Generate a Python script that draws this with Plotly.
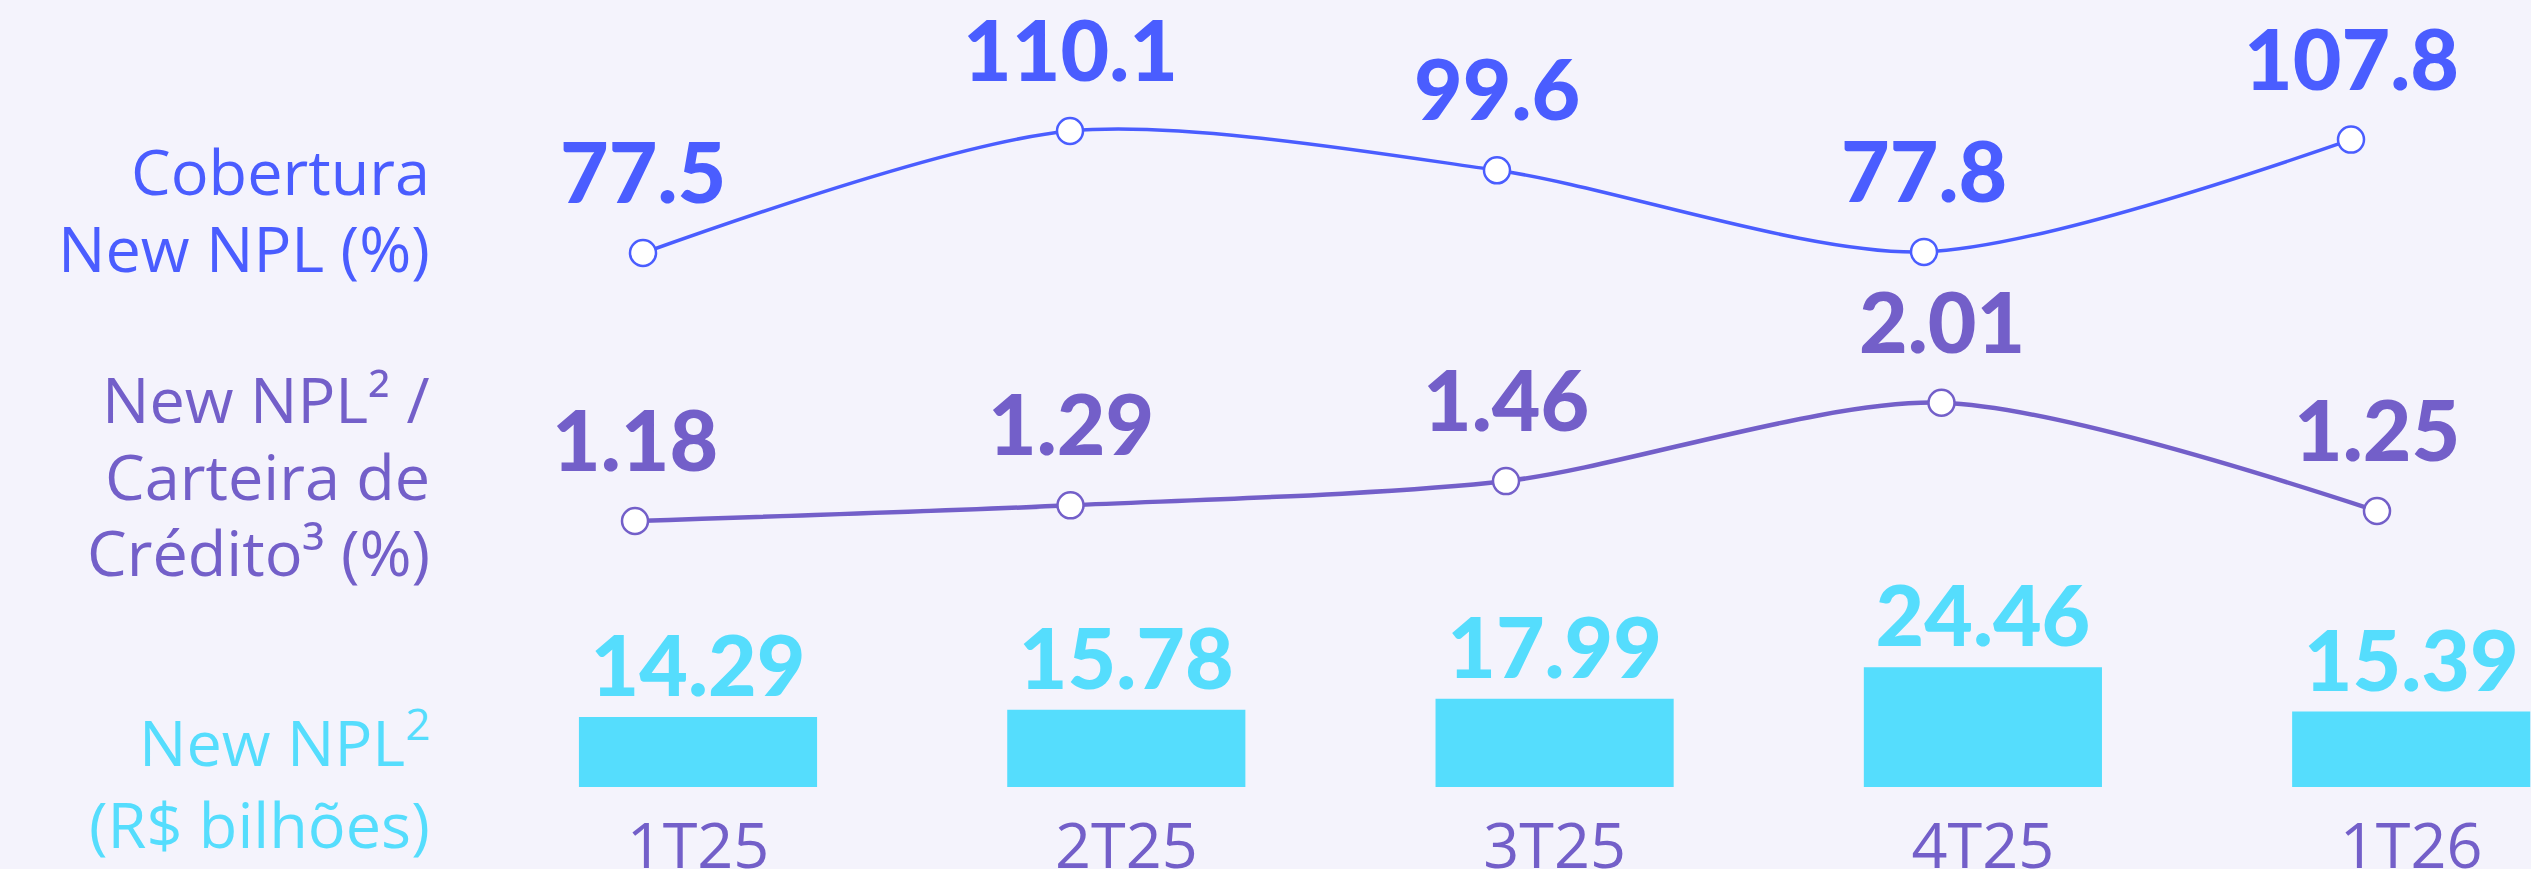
import plotly.graph_objects as go

# ---------------- data ----------------
categories = ["1T25", "2T25", "3T25", "4T25", "1T26"]
new_npl_bi = [14.29, 15.78, 17.99, 24.46, 15.39]          # bars (R$ bilhões)
cobertura_pct = [77.5, 110.1, 99.6, 77.8, 107.8]          # top line (%)
npl_carteira_pct = [1.18, 1.29, 1.46, 2.01, 1.25]         # middle line (%)

bar_labels = ["14.29", "15.78", "17.99", "24.46", "15.39"]
cob_labels = ["77.5", "110.1", "99.6", "77.8", "107.8"]
npl_labels = ["1.18", "1.29", "1.46", "2.01", "1.25"]

# ---------------- style ----------------
W, H = 2531, 869
BG = "#F4F3FC"
CYAN = "#55DDFD"
BLUE = "#4A5DFF"
PURPLE = "#735FC9"
NUM_FONT = "Lato"
TXT_FONT = "Open Sans"

# pixel geometry (layout only)
base_px = 787                     # bar baseline (bottom of plotting domain)
dom_h = base_px


def cat_range(center0, step):
    return [-center0 / step, (W - center0) / step]


def val_range(v_ref, px_ref, px_per_unit):
    top = v_ref + px_ref / px_per_unit
    bottom = v_ref - (dom_h - px_ref) / px_per_unit
    return [bottom, top]


fig = go.Figure()

fig.add_trace(go.Bar(
    x=categories, y=new_npl_bi, xaxis="x", yaxis="y",
    marker=dict(color=CYAN, line=dict(width=0)),
    width=0.556,
    text=bar_labels, textposition="outside", constraintext="none",
    textfont=dict(family=NUM_FONT, size=84, color=CYAN, weight=900),
    cliponaxis=False, hoverinfo="skip",
))

fig.add_trace(go.Scatter(
    x=categories, y=cobertura_pct, xaxis="x2", yaxis="y2",
    mode="lines+markers",
    line=dict(color=BLUE, width=3.5, shape="spline", smoothing=0.8),
    marker=dict(size=26, color="white", line=dict(color=BLUE, width=2.5)),
    cliponaxis=False, hoverinfo="skip",
))

fig.add_trace(go.Scatter(
    x=categories, y=npl_carteira_pct, xaxis="x3", yaxis="y3",
    mode="lines+markers",
    line=dict(color=PURPLE, width=4.5, shape="spline", smoothing=0.8),
    marker=dict(size=26, color="white", line=dict(color=PURPLE, width=2.5)),
    cliponaxis=False, hoverinfo="skip",
))

annotations = []
for c, v, t in zip(categories, cobertura_pct, cob_labels):
    annotations.append(dict(x=c, y=v, xref="x2", yref="y2", text=t, showarrow=False,
                            yanchor="bottom", xanchor="center", yshift=30,
                            font=dict(family=NUM_FONT, size=84, color=BLUE, weight=900)))
for c, v, t in zip(categories, npl_carteira_pct, npl_labels):
    annotations.append(dict(x=c, y=v, xref="x3", yref="y3", text=t, showarrow=False,
                            yanchor="bottom", xanchor="center", yshift=30,
                            font=dict(family=NUM_FONT, size=84, color=PURPLE, weight=900)))

# left-hand row labels (one annotation per line, baseline positions in px)
row_labels = [
    (["Cobertura", "New NPL (%)"], [195, 272], BLUE),
    (["New NPL² /", "Carteira de", "Crédito³ (%)"], [423, 500, 576], PURPLE),
    (["New NPL<sup>2</sup>", "(R$ bilhões)"], [763, 848], CYAN),
]
LFS = 63
for lines, baselines, col in row_labels:
    for txt, bl in zip(lines, baselines):
        center_px = bl - 0.388 * LFS
        annotations.append(dict(x=432 / W, y=1 - center_px / H, xref="paper", yref="paper",
                                text=txt, showarrow=False, xanchor="right", yanchor="middle",
                                align="right",
                                font=dict(family=TXT_FONT, size=LFS, color=col, weight=500)))

fig.update_layout(
    width=W, height=H,
    margin=dict(l=0, r=0, t=0, b=0),
    paper_bgcolor=BG, plot_bgcolor=BG,
    showlegend=False,
    annotations=annotations,
    xaxis=dict(type="category", categoryarray=categories, range=cat_range(698, 428.3),
               showgrid=False, zeroline=False, showline=False, ticks="",
               tickfont=dict(family=TXT_FONT, size=63, color=PURPLE),
               ticklabelstandoff=17, automargin=False, fixedrange=True),
    yaxis=dict(domain=[(H - base_px) / H, 1], range=[0, dom_h / 4.9],
               visible=False, fixedrange=True),
    xaxis2=dict(type="category", categoryarray=categories, overlaying="x",
                range=cat_range(643, 427), visible=False, anchor="y2"),
    yaxis2=dict(overlaying="y", range=val_range(77.5, 253, 3.742),
                visible=False, anchor="x2"),
    xaxis3=dict(type="category", categoryarray=categories, overlaying="x",
                range=cat_range(635, 435.5), visible=False, anchor="y3"),
    yaxis3=dict(overlaying="y", range=val_range(1.18, 521, 142.5),
                visible=False, anchor="x3"),
)

fig.write_html(
    "out.html",
    config={"displayModeBar": False, "staticPlot": True},
    post_script="document.body.style.margin='0';document.body.style.background='%s';" % BG,
)
